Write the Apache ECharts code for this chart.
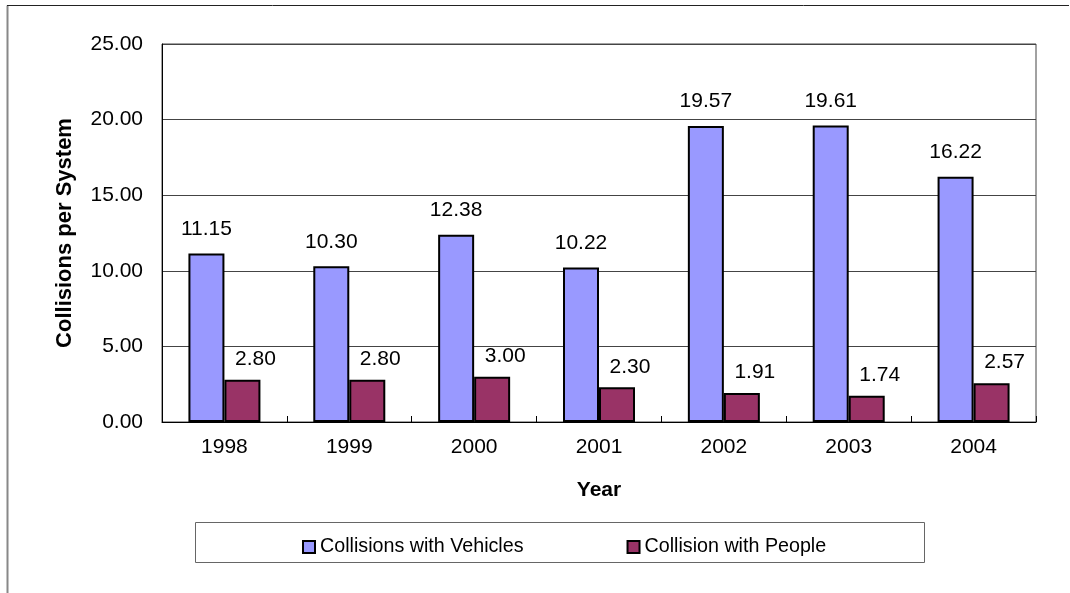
<!DOCTYPE html>
<html>
<head>
<meta charset="utf-8">
<script src="https://cdn.jsdelivr.net/npm/echarts@6/dist/echarts.min.js"></script>
<style>html,body{margin:0;padding:0;background:#fff;}#c{width:1070px;height:593px;}</style>
</head>
<body>
<div id="c"></div>
<script>
const years = ['1998','1999','2000','2001','2002','2003','2004'];
const vehicles = [11.15, 10.30, 12.38, 10.22, 19.57, 19.61, 16.22];
const people = [2.80, 2.80, 3.00, 2.30, 1.91, 1.74, 2.57];
const seriesNames = ['Collisions with Vehicles', 'Collision with People'];

const chart = echarts.init(document.getElementById('c'));
const font = 'Liberation Sans, Arial, sans-serif';
const fs = 21;
chart.setOption({
  animation: false,
  backgroundColor: '#fff',
  grid: {left: 162, right: 34, top: 44, bottom: 171, show: true, borderColor: '#444', borderWidth: 1},
  graphic: [
    {type: 'line', shape: {x1: 7.5, y1: 5.5, x2: 7.5, y2: 593}, style: {stroke: '#888', lineWidth: 2}},
    {type: 'line', shape: {x1: 7, y1: 5.5, x2: 1069, y2: 5.5}, style: {stroke: '#222', lineWidth: 1}},
    {type: 'rect', shape: {x: 195.5, y: 522.5, width: 729, height: 40}, style: {fill: '#fff', stroke: '#666', lineWidth: 1}, z: -1}
  ],
  legend: {
    data: seriesNames, top: 532, left: 297, itemGap: 103, itemWidth: 12, itemHeight: 12,
    icon: 'rect', textStyle: {fontFamily: font, fontSize: 19.7, color: '#000'}
  },
  xAxis: {
    type: 'category', data: years,
    name: 'Year', nameLocation: 'middle', nameGap: 58,
    nameTextStyle: {fontFamily: font, fontSize: fs, fontWeight: 'bold', color: '#000'},
    axisLine: {lineStyle: {color: '#000', width: 1}},
    axisTick: {show: true, inside: true, length: 6, lineStyle: {color: '#000'}},
    axisLabel: {fontFamily: font, fontSize: fs, color: '#000', margin: 15},
    splitLine: {show: false}
  },
  yAxis: {
    type: 'value', min: 0, max: 25, interval: 5,
    name: 'Collisions per System', nameLocation: 'middle', nameGap: 86,
    nameTextStyle: {fontFamily: font, fontSize: 22, fontWeight: 'bold', color: '#000'},
    axisLine: {show: true, lineStyle: {color: '#000'}},
    axisTick: {show: false},
    axisLabel: {fontFamily: font, fontSize: fs, color: '#000', margin: 19, formatter: v => v.toFixed(2)},
    splitLine: {show: true, lineStyle: {color: '#444', width: 1}}
  },
  series: [
    {name: seriesNames[0], type: 'bar', data: vehicles, barWidth: 36, barGap: '0%',
     itemStyle: {color: '#9999FF', borderColor: '#000', borderWidth: 2},
     label: {show: true, position: 'top', distance: 14, color: '#000', fontFamily: font, fontSize: fs,
       formatter: p => p.value.toFixed(2)}},
    {name: seriesNames[1], type: 'bar', data: people, barWidth: 36, barGap: '0%',
     itemStyle: {color: '#993366', borderColor: '#000', borderWidth: 2},
     label: {show: true, position: 'top', distance: 10, offset: [13, 0], color: '#000', fontFamily: font, fontSize: fs,
       formatter: p => p.value.toFixed(2)}}
  ]
});
</script>
</body>
</html>
